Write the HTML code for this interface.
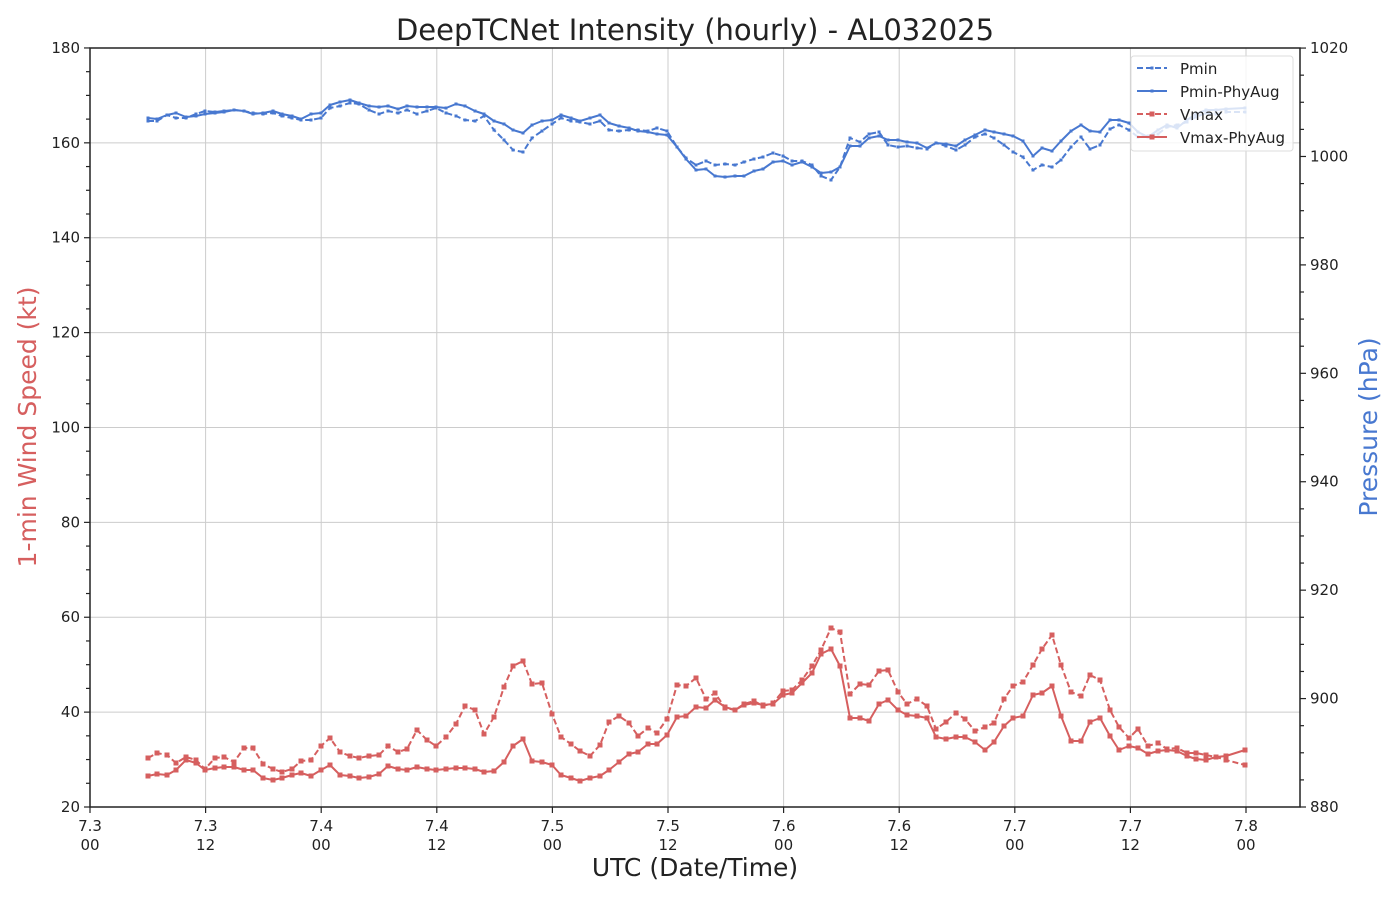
<!DOCTYPE html>
<html><head><meta charset="utf-8"><style>
body{margin:0;background:#fff}
svg text{font-family:"DejaVu Sans","Liberation Sans",sans-serif;fill:#222}
</style></head><body>
<svg id="s" width="1400" height="900" xmlns="http://www.w3.org/2000/svg">
<defs>
<marker id="mr" markerWidth="6" markerHeight="6" refX="3" refY="3" markerUnits="userSpaceOnUse"><rect x="0.5" y="0.5" width="5" height="5" fill="#d65f5f"/></marker>
<marker id="mb" markerWidth="4" markerHeight="4" refX="2" refY="2" markerUnits="userSpaceOnUse"><rect x="0.5" y="0.5" width="3" height="3" fill="#4878d0"/></marker>
</defs>
<g id="g"></g>
<text x="695" y="40" font-size="29" text-anchor="middle">DeepTCNet Intensity (hourly) - AL032025</text>
<text x="695" y="876" font-size="25" text-anchor="middle">UTC (Date/Time)</text>
<text transform="translate(36,427) rotate(-90)" font-size="25" text-anchor="middle" style="fill:#d65f5f">1-min Wind Speed (kt)</text>
<text transform="translate(1377,427) rotate(-90)" font-size="25" text-anchor="middle" style="fill:#4878d0">Pressure (hPa)</text>
</svg>
<script>
const g=document.getElementById('g');let h='';
const L=90,R=1300,T=48,B=807;
for(let i=0;i<=10;i++){const x=L+i*115.6;h+=`<line x1="${x}" y1="${T}" x2="${x}" y2="${B}" stroke="#ccc" stroke-width="1"/>`;}
for(let v=20;v<=180;v+=20){const y=B-(v-20)*4.744;h+=`<line x1="${L}" y1="${y}" x2="${R}" y2="${y}" stroke="#ccc" stroke-width="1"/>`;}
const lbl=['7.3','7.3','7.4','7.4','7.5','7.5','7.6','7.6','7.7','7.7','7.8'];
for(let i=0;i<=10;i++){const x=L+i*115.6;h+=`<line x1="${x}" y1="${B}" x2="${x}" y2="${B+6}" stroke="#222" stroke-width="1.2"/><text x="${x}" y="${B+24}" font-size="15" text-anchor="middle">${lbl[i]}</text><text x="${x}" y="${B+43}" font-size="15" text-anchor="middle">${i%2?'12':'00'}</text>`;}
for(let v=20;v<=180;v+=5){const y=B-(v-20)*4.744;const M=v%20==0;h+=`<line x1="${L-(M?6:4)}" y1="${y}" x2="${L}" y2="${y}" stroke="#222" stroke-width="1.2"/>`;if(M)h+=`<text x="${L-10}" y="${y+5}" font-size="15" text-anchor="end">${v}</text>`;}
for(let p=880;p<=1020;p+=5){const y=B-(p-880)*5.421;const M=p%20==0;h+=`<line x1="${R}" y1="${y}" x2="${R+(M?6:4)}" y2="${y}" stroke="#222" stroke-width="1.2"/>`;if(M)h+=`<text x="${R+10}" y="${y+5}" font-size="15">${p}</text>`;}
const xs=[148,157,167,176,186,196,205,215,224,234,244,253,263,273,282,292,301,311,321,330,340,350,359,369,379,388,398,407,417,427,436,446,456,465,475,484,494,504,513,523,532,542,552,561,571,580,590,600,609,619,629,638,648,657,667,677,686,696,706,715,725,735,744,754,763,773,783,792,802,812,821,831,840,850,860,869,879,888,898,907,917,927,936,946,956,965,975,985,994,1004,1013,1023,1033,1042,1052,1061,1071,1081,1090,1100,1110,1119,1129,1138,1148,1158,1167,1177,1187,1196,1206,1216,1226,1245];
const vd=[758,753,755,763,757,760,769,758,757,762,748,748,764,769,772,769,761,760,746,738,752,756,758,756,755,746,752,749,730,740,746,737,724,706,710,734,717,687,666,661,684,683,714,737,744,751,756,745,722,716,723,736,728,733,719,685,686,678,699,693,708,710,704,701,706,703,691,690,680,666,650,628,632,694,684,685,671,670,692,704,699,706,729,722,713,719,731,727,723,699,686,682,665,649,635,665,692,696,675,680,710,727,738,729,746,743,749,748,753,753,755,757,760,765];
const vs=[776,774,775,770,760,763,770,768,767,767,770,770,778,780,778,775,773,776,770,765,775,776,778,777,774,766,769,770,767,769,770,769,768,768,769,772,771,762,746,739,761,762,765,775,778,781,778,776,770,762,754,752,744,744,735,717,716,707,708,700,707,710,705,703,705,704,695,693,683,673,654,649,666,718,718,721,704,700,710,715,716,718,737,739,737,737,742,750,742,726,718,716,695,693,686,716,741,741,722,718,736,750,746,748,754,751,750,751,756,759,760,757,756,750];
const pd=[121,121,115,118,118,114,111,112,111,110,111,113,114,113,116,118,120,120,118,108,106,103,104,110,114,111,113,110,114,111,108,113,116,120,121,116,130,140,150,152,138,131,124,118,121,122,124,121,130,131,130,130,131,128,131,147,158,165,161,165,164,165,162,159,157,153,156,161,161,165,176,180,167,138,142,134,132,145,147,146,148,149,143,146,150,145,137,134,138,145,152,157,170,165,167,160,147,137,149,145,129,125,130,137,136,134,127,125,122,117,113,114,112,112];
const ps=[118,119,115,113,117,116,114,113,112,110,111,114,113,111,114,116,119,114,113,105,102,100,103,106,107,106,109,106,107,107,107,108,104,106,111,114,121,124,130,133,125,121,120,115,118,121,118,115,123,126,128,131,132,134,135,147,159,170,169,176,177,176,176,171,169,162,161,165,162,167,173,172,167,146,146,138,136,140,140,142,143,148,143,144,146,140,135,130,132,134,136,141,156,148,151,141,131,125,131,132,120,120,123,132,137,130,125,128,120,114,110,110,109,108];
function pl(ys,c,m,dash,w){const pts=xs.map((x,i)=>x+','+ys[i]).join(' ');return `<polyline points="${pts}" fill="none" stroke="${c}" stroke-width="${w}" ${dash?'stroke-dasharray="6,3"':''} stroke-linejoin="round" marker-start="url(#${m})" marker-mid="url(#${m})" marker-end="url(#${m})"/>`;}
h+=pl(pd,'#4878d0','mb',1,2);h+=pl(ps,'#4878d0','mb',0,2);
h+=pl(vd,'#d65f5f','mr',1,2);h+=pl(vs,'#d65f5f','mr',0,2);
h+=`<rect x="${L}" y="${T}" width="${R-L}" height="${B-T}" fill="none" stroke="#222" stroke-width="1.5"/>`;
h+=`<rect x="1131" y="56" width="162" height="95" rx="3" fill="#fff" fill-opacity="0.8" stroke="#ddd"/>`;
const lg=[['Pmin','#4878d0',1,'mb'],['Pmin-PhyAug','#4878d0',0,'mb'],['Vmax','#d65f5f',1,'mr'],['Vmax-PhyAug','#d65f5f',0,'mr']];
lg.forEach((l,i)=>{const y=68+i*23;h+=`<polyline points="1137,${y} 1152,${y} 1167,${y}" fill="none" stroke="${l[1]}" stroke-width="2" ${l[2]?'stroke-dasharray="6,3"':''} marker-mid="url(#${l[3]})"/><text x="1180" y="${y+6}" font-size="15">${l[0]}</text>`;});
g.innerHTML=h;
</script>
</body></html>
